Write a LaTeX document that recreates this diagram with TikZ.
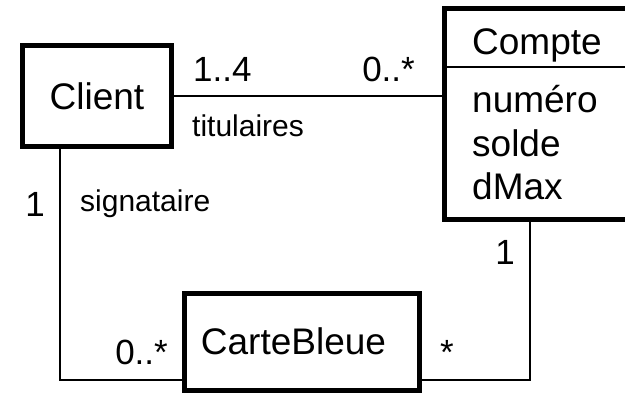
\documentclass[tikz,border=0pt]{standalone}
\usepackage{fontspec}
\setmainfont{Liberation Sans}

\begin{document}
\begin{tikzpicture}[x=1pt, y=-1pt,
  classbox/.style={draw, rectangle, line width=5pt, inner sep=0pt},
  assoc/.style={line width=2.2pt},
  classname/.style={inner sep=0pt, font=\fontsize{37}{44}\selectfont},
  mult/.style={inner sep=0pt, font=\fontsize{35}{42}\selectfont},
  role/.style={inner sep=0pt, font=\fontsize{30}{36}\selectfont}]
  \useasboundingbox (0,0) rectangle (625,393);

  % Classes
  \node[classbox, classname, minimum width=149pt, minimum height=101pt] (client) at (97,96) {Client};
  \node[classbox, minimum width=195.5pt, minimum height=211pt] (compte) at (542.25,114) {};
  \node[classbox, minimum width=235pt, minimum height=97pt] (carte) at (302,342) {};
  \node[classname] (cartename) at (293.5,341) {CarteBleue};

  % Compte: name and attributes
  \node[classname, anchor=base west] (comptename) at (472,55) {Compte};
  \draw[line width=2pt] (compte.west |- 0,67) -- (compte.east |- 0,67);
  \node[classname, anchor=base west] (attrnum) at (472,113) {numéro};
  \node[classname, anchor=base west] (attrsolde) at (472,157) {solde};
  \node[classname, anchor=base west] (attrdmax) at (472,200) {dMax};

  % Associations
  \coordinate (cornerL) at (60,380);
  \coordinate (cornerR) at (530,380);
  \draw[assoc] (client.east) -- (client.east -| compte.west);
  \draw[assoc] (client.south -| cornerL) -- (cornerL) -- (cornerL -| carte.west);
  \draw[assoc] (compte.south -| cornerR) -- (cornerR) -- (cornerR -| carte.east);

  % Multiplicities and roles
  \node[mult, anchor=base west] (multA) at (193,82) {1..4};
  \node[mult, anchor=base east] (multB) at (415,82) {0..*};
  \node[role, anchor=base west] (roleA) at (192,137) {titulaires};
  \node[mult, anchor=base east] (multC) at (45,217) {1};
  \node[role, anchor=base west] (roleB) at (80,212) {signataire};
  \node[mult, anchor=base east] (multD) at (168,365) {0..*};
  \node[mult, anchor=base west] (multE) at (440,365) {*};
  \node[mult, anchor=base east] (multF) at (515,265) {1};
\end{tikzpicture}
\end{document}
